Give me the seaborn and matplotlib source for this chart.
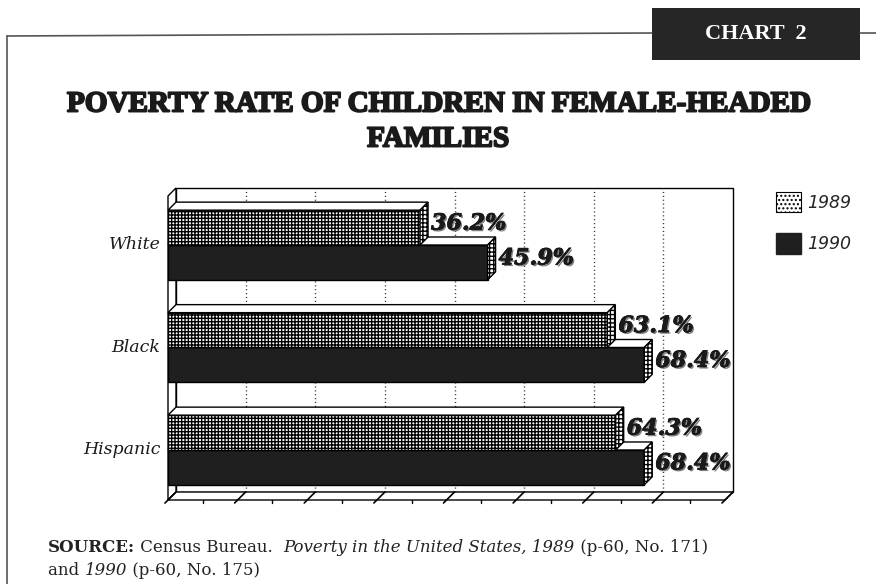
"""
Chart 2: poverty rate of children in female-headed families, 1989 vs 1990.
"""

import matplotlib

matplotlib.use("Agg")
import matplotlib.patheffects as pe
import matplotlib.pyplot as plt
import pandas as pd
import seaborn as sns
from matplotlib.lines import Line2D
from matplotlib.patches import Patch, Polygon, Rectangle

W, H = 876, 584
DEPTH = 8  # px, pseudo-3D depth of the chart box and bars

groups = ["White", "Black", "Hispanic"]
years = ["1989", "1990"]
rate_1989 = [36.2, 63.1, 64.3]
rate_1990 = [45.9, 68.4, 68.4]
x_max = 80
grid_ticks = list(range(0, 81, 10))
minor_ticks = list(range(5, 80, 10))

DARK = "#1f1f1f"
INK = "#1a1a1a"
SERIF = ["DejaVu Serif"]


def fx(x):
    return x / W


def fy(y):
    return 1 - y / H


def add_text_run(fig, x, y, pieces, **common):
    """Пишет подряд несколько кусков текста с разным начертанием."""
    prev = None
    for txt, style, weight in pieces:
        kw = dict(common, fontstyle=style, fontweight=weight, va="bottom", ha="left")
        if prev is None:
            prev = fig.text(x, y, txt, **kw)
        else:
            prev = fig.axes[0].annotate(txt, xy=(1, 0), xycoords=prev, **kw)


def main():
    sns.set_theme(style="white")
    plt.rcParams["font.family"] = ["DejaVu Serif", "DejaVu Sans"]
    plt.rcParams["hatch.linewidth"] = 1.0
    plt.rcParams["hatch.color"] = "black"

    df = pd.DataFrame(
        {
            "group": groups * 2,
            "year": [years[0]] * 3 + [years[1]] * 3,
            "rate": rate_1989 + rate_1990,
        }
    )

    fig = plt.figure(figsize=(W / 100, H / 100), dpi=100)
    fig.patch.set_facecolor("white")
    # front plane of the box: x 168..725, y 196..500 (image px)
    ax = fig.add_axes([fx(168), fy(500), (725 - 168) / W, (500 - 196) / H])
    ax.set_facecolor("none")

    sns.barplot(
        data=df,
        y="group",
        x="rate",
        hue="year",
        orient="h",
        width=0.68,
        palette=["white", DARK],
        edgecolor="black",
        linewidth=1.0,
        legend=False,
        ax=ax,
    )
    ax.set_xlim(0, x_max)
    ax.set_ylim(2.488, -0.478)
    for s in ax.spines.values():
        s.set_visible(False)
    ax.set_xticks([])
    ax.set_yticks([])
    ax.set_xlabel("")
    ax.set_ylabel("")

    fig.canvas.draw()
    to_disp = ax.transData.transform
    to_data = ax.transData.inverted().transform

    def back(x, y):
        dx, dy = to_disp((x, y))
        return tuple(to_data((dx + DEPTH, dy + DEPTH)))

    y0, y1 = ax.get_ylim()  # bottom, top (inverted)
    # back wall
    bl, tl = back(0, y0), back(0, y1)
    br, tr = back(x_max, y0), back(x_max, y1)
    ax.add_patch(Polygon([bl, br, tr, tl], closed=True, fc="white", ec="black",
                         lw=1.0, zorder=0.5, clip_on=False))
    # left wall and floor
    ax.add_patch(Polygon([(0, y0), (0, y1), tl, bl], closed=True, fc="white",
                         ec="black", lw=1.0, zorder=0.6, clip_on=False))
    ax.add_patch(Polygon([(0, y0), (x_max, y0), br, bl], closed=True, fc="white",
                         ec="black", lw=1.0, zorder=0.6, clip_on=False))
    # dotted grid on back wall, ticks on the floor
    for t in grid_ticks[1:-1]:
        b0, b1 = back(t, y0), back(t, y1)
        ax.add_line(Line2D([b0[0], b1[0]], [b0[1], b1[1]], ls=(0, (0.8, 2.0)),
                           color="#333333", lw=1.0, zorder=0.7, clip_on=False))
    for t in grid_ticks:
        b0 = back(t, y0)
        dx, dy = to_disp((t, y0))
        below = to_data((dx - 3, dy - 3))
        ax.add_line(Line2D([below[0], b0[0]], [below[1], b0[1]], color="black",
                           lw=1.2, zorder=0.8, clip_on=False))
    for t in minor_ticks:
        dx, dy = to_disp((t, y0))
        below = to_data((dx, dy - 3))
        ax.add_line(Line2D([t, t], [y0, below[1]], color="black", lw=1.0,
                           zorder=0.8, clip_on=False))

    # bars: 1990 drawn first, 1989 on top
    for idx, cont in enumerate(ax.containers):
        z = 4 - idx
        values = rate_1989 if idx == 0 else rate_1990
        for bar, val in zip(cont.patches, values):
            bar.set_zorder(z)
            if idx == 0:
                bar.set_hatch("+++++")
            xa, ya = bar.get_x(), bar.get_y()
            xb, yb = xa + bar.get_width(), ya + bar.get_height()
            top = [(xa, ya), (xb, ya), back(xb, ya), back(xa, ya)]
            side = [(xb, ya), (xb, yb), back(xb, yb), back(xb, ya)]
            ax.add_patch(Polygon(top, closed=True, fc="white", ec="black",
                                 lw=1.0, zorder=z, clip_on=False))
            ax.add_patch(Polygon(side, closed=True, fc="white", ec="black",
                                 lw=1.0, hatch="++++", zorder=z, clip_on=False))
            ax.annotate(
                f"{val}%",
                xy=(xb, ya + bar.get_height() / 2),
                xytext=(DEPTH + 3, 4),
                textcoords="offset pixels",
                ha="left",
                va="center",
                fontsize=16,
                fontweight="bold",
                fontstyle="italic",
                family=SERIF,
                color=INK,
                zorder=6,
                path_effects=[
                    pe.withSimplePatchShadow(offset=(1.2, -1.2),
                                             shadow_rgbFace="0.5", alpha=1.0),
                    pe.withStroke(linewidth=0.6, foreground=INK),
                ],
            )

    # category labels
    for i, g in enumerate(groups):
        ax.text(-1.1, i, g, ha="right", va="center", fontsize=12.5,
                fontstyle="italic", family=SERIF, color=INK)

    # legend
    handles = [
        Patch(fc="white", ec="black", lw=0.8, hatch="....", label=years[0]),
        Patch(fc=DARK, ec=DARK, label=years[1]),
    ]
    fig.legend(
        handles=handles,
        loc="upper left",
        bbox_to_anchor=(fx(760), fy(176)),
        frameon=False,
        prop={"family": "DejaVu Sans", "style": "italic", "size": 12.5},
        handlelength=1.45,
        handleheight=1.45,
        handletextpad=0.35,
        labelspacing=1.2,
    )

    # page frame and "CHART 2" tab
    fig.add_artist(Line2D([fx(7), fx(7)], [fy(36), 0], color="#555555", lw=1.2))
    fig.add_artist(Line2D([fx(7), fx(652)], [fy(36), fy(33)], color="#555555", lw=1.2))
    fig.add_artist(Line2D([fx(860), fx(876)], [fy(33), fy(33)], color="#555555", lw=1.2))
    fig.add_artist(Rectangle((fx(652), fy(60)), (860 - 652) / W, 52 / H,
                             transform=fig.transFigure, fc="#262626", ec="none"))
    fig.text(fx(756), fy(34), "CHART  2", ha="center", va="center", color="white",
             fontsize=16, family=["Liberation Serif"], fontweight="bold")

    # title, thickened to look like the heavy poster face
    heavy = [pe.withStroke(linewidth=1.4, foreground=INK)]
    fig.text(0.5, fy(104), "POVERTY RATE OF CHILDREN IN FEMALE-HEADED",
             ha="center", va="center", fontsize=21, fontweight="bold",
             family=["Liberation Serif"], color=INK, path_effects=heavy)
    fig.text(0.5, fy(139), "FAMILIES", ha="center", va="center", fontsize=21,
             fontweight="bold", family=["Liberation Serif"], color=INK,
             path_effects=heavy)

    # source note
    common = dict(fontsize=12, family=SERIF, color="#222222")
    add_text_run(fig, fx(48), fy(556), [
        ("SOURCE:", "normal", "bold"),
        (" Census Bureau.  ", "normal", "normal"),
        ("Poverty in the United States, 1989", "italic", "normal"),
        (" (p-60, No. 171)", "normal", "normal"),
    ], **common)
    add_text_run(fig, fx(48), fy(579), [
        ("and ", "normal", "normal"),
        ("1990", "italic", "normal"),
        (" (p-60, No. 175)", "normal", "normal"),
    ], **common)

    fig.savefig("out.png", dpi=100)
    plt.close(fig)


if __name__ == "__main__":
    main()
